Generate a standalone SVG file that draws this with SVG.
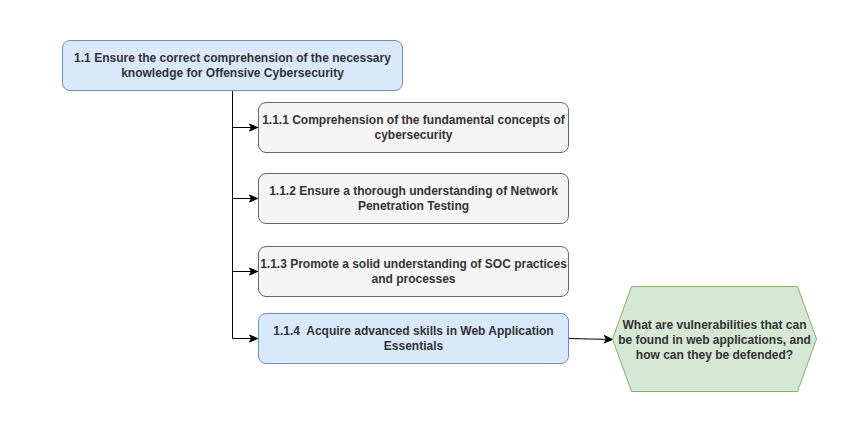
<svg xmlns="http://www.w3.org/2000/svg" width="851" height="448" viewBox="0 0 851 448">
  <defs>
    <marker id="arr" markerWidth="10" markerHeight="10" refX="9" refY="5" orient="auto" markerUnits="userSpaceOnUse">
      <path d="M1,1.5 L9,5 L1,8.5 L3,5 Z" fill="#000" stroke="#000" stroke-width="1"/>
    </marker>
    <style>
      .blue { fill: #dae8fc; stroke: #6c8ebf; stroke-width: 1; }
      .gray { fill: #f5f5f5; stroke: #666666; stroke-width: 1; }
      .green { fill: #d5e8d4; stroke: #82b366; stroke-width: 1; }
      text { font-family: "Liberation Sans", Arial, sans-serif; font-size: 12px; font-weight: bold; fill: #333333; text-anchor: middle; dominant-baseline: central; }
      .conn { fill: none; stroke: #000; stroke-width: 1; }
    </style>
  </defs>
  <rect width="851" height="448" fill="#ffffff"/>
  <g id="connectors">
    <path class="conn" d="M232.5,90.5 L232.5,338.5"/>
    <path class="conn" d="M232.5,127.5 L257.5,127.5" marker-end="url(#arr)"/>
    <path class="conn" d="M232.5,198.5 L257.5,198.5" marker-end="url(#arr)"/>
    <path class="conn" d="M232.5,271.5 L257.5,271.5" marker-end="url(#arr)"/>
    <path class="conn" d="M232.5,338.5 L257.5,338.5" marker-end="url(#arr)"/>
    <path class="conn" d="M568.5,338.5 L612.5,339.5" marker-end="url(#arr)"/>
  </g>
  <g id="node-1-1">
    <rect class="blue" x="62.5" y="40.5" width="340" height="50" rx="7.5"/>
    <text x="232.5" y="57.5">1.1 Ensure the correct comprehension of the necessary</text>
    <text x="232.5" y="72.5">knowledge for Offensive Cybersecurity</text>
  </g>
  <g id="node-1-1-1">
    <rect class="gray" x="258.5" y="102.5" width="310" height="50" rx="7.5"/>
    <text x="413.5" y="120">1.1.1 Comprehension of the fundamental concepts of</text>
    <text x="413.5" y="135">cybersecurity</text>
  </g>
  <g id="node-1-1-2">
    <rect class="gray" x="258.5" y="173.5" width="310" height="50" rx="7.5"/>
    <text x="413.5" y="191">1.1.2 Ensure a thorough understanding of Network</text>
    <text x="413.5" y="206">Penetration Testing</text>
  </g>
  <g id="node-1-1-3">
    <rect class="gray" x="258.5" y="246.5" width="310" height="50" rx="7.5"/>
    <text x="413.5" y="264">1.1.3 Promote a solid understanding of SOC practices</text>
    <text x="413.5" y="279">and processes</text>
  </g>
  <g id="node-1-1-4">
    <rect class="blue" x="258.5" y="313.5" width="310" height="50" rx="7.5"/>
    <text x="413.5" y="331" xml:space="preserve">1.1.4  Acquire advanced skills in Web Application</text>
    <text x="413.5" y="346">Essentials</text>
  </g>
  <g id="node-question">
    <polygon class="green" points="631.5,286.5 797.5,286.5 816.5,339 797.5,391.5 631.5,391.5 612.5,339"/>
    <text x="714.5" y="325">What are vulnerabilities that can</text>
    <text x="714.5" y="340">be found in web applications, and</text>
    <text x="714.5" y="355">how can they be defended?</text>
  </g>
</svg>
